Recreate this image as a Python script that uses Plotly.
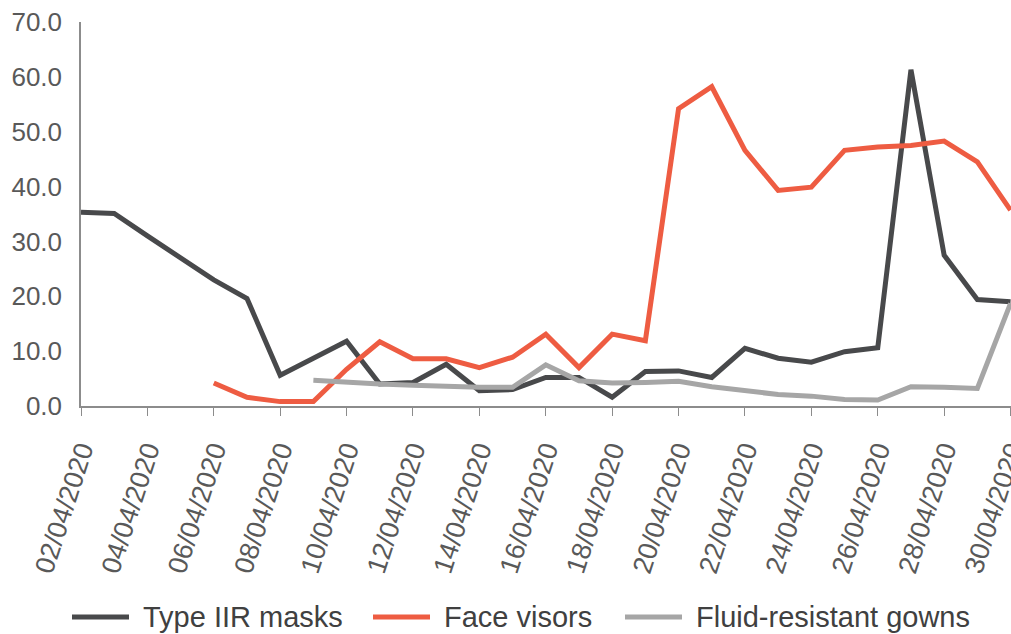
import plotly.graph_objects as go

# Daily dates shown on the x axis (02/04/2020 - 30/04/2020)
dates = [
    "2020-04-02", "2020-04-03", "2020-04-04", "2020-04-05", "2020-04-06",
    "2020-04-07", "2020-04-08", "2020-04-09", "2020-04-10", "2020-04-11",
    "2020-04-12", "2020-04-13", "2020-04-14", "2020-04-15", "2020-04-16",
    "2020-04-17", "2020-04-18", "2020-04-19", "2020-04-20", "2020-04-21",
    "2020-04-22", "2020-04-23", "2020-04-24", "2020-04-25", "2020-04-26",
    "2020-04-27", "2020-04-28", "2020-04-29", "2020-04-30",
]

type_iir_masks = [
    35.3, 35.1, 31.0, 27.0, 23.0, 19.6, 5.6, 8.7, 11.8, 4.0,
    4.3, 7.6, 2.8, 3.0, 5.2, 5.2, 1.6, 6.3, 6.4, 5.2,
    10.5, 8.7, 8.0, 9.9, 10.6, 61.3, 27.5, 19.4, 19.0,
]

face_visors = [
    None, None, None, None, 4.2, 1.6, 0.8, 0.8, 6.7, 11.7,
    8.6, 8.6, 7.0, 8.9, 13.1, 7.0, 13.1, 11.9, 54.2, 58.2,
    46.6, 39.3, 39.9, 46.6, 47.2, 47.5, 48.3, 44.5, 35.7,
]

fluid_resistant_gowns = [
    None, None, None, None, None, None, None, 4.7, 4.3, 4.0,
    3.8, 3.5, 3.4, 3.4, 7.5, 4.6, 4.2, 4.3, 4.5, 3.5,
    2.8, 2.1, 1.8, 1.2, 1.1, 3.5, 3.4, 3.2, 18.7,
]

series = [
    ("Type IIR masks", type_iir_masks, "#48494b"),
    ("Face visors", face_visors, "#ee5c42"),
    ("Fluid-resistant gowns", fluid_resistant_gowns, "#a6a6a6"),
]

FONT = "Arial, Liberation Sans, sans-serif"
AXIS_GREY = "#8c8c8c"
TEXT_GREY = "#595959"

W, H = 1011, 634
L, R, T, B = 81, 0, 22, 228
plot_w, plot_h = W - L - R, H - T - B


def px_x(px):
    # page pixel -> paper fraction (horizontal)
    return (px - L) / plot_w


def px_y(py):
    # page pixel (from top) -> paper fraction (vertical)
    return (H - B - py) / plot_h


fig = go.Figure()
for name, values, colour in series:
    fig.add_trace(go.Scatter(
        x=dates, y=values, name=name, mode="lines",
        line=dict(color=colour, width=5), connectgaps=False,
    ))

# Hand-built legend below the axis: long line swatch followed by the label
legend_x = [72, 373, 625]
legend_y = 617
for (name, _, colour), x0 in zip(series, legend_x):
    fig.add_shape(
        type="line", xref="paper", yref="paper",
        x0=px_x(x0), x1=px_x(x0 + 57), y0=px_y(legend_y), y1=px_y(legend_y),
        line=dict(color=colour, width=5),
    )
    fig.add_annotation(
        xref="paper", yref="paper", x=px_x(x0 + 69), y=px_y(legend_y),
        text=name, showarrow=False, xanchor="left", yanchor="middle",
        font=dict(family=FONT, size=29, color="#404040"),
    )

fig.update_layout(
    width=W, height=H,
    margin=dict(l=L, r=R, t=T, b=B),
    paper_bgcolor="white", plot_bgcolor="white",
    font=dict(family=FONT, color=TEXT_GREY, size=25),
    showlegend=False,
)
fig.update_xaxes(
    type="date", range=["2020-04-02", "2020-04-30 00:20"],
    dtick=2 * 86400000, tick0="2020-04-02", tickformat="%d/%m/%Y",
    tickangle=-72, ticks="outside", ticklen=8, tickcolor=AXIS_GREY,
    showline=True, linecolor=AXIS_GREY, linewidth=1.5,
    showgrid=False, zeroline=False, automargin=False,
    ticklabeloverflow="allow",
    tickfont=dict(size=27, color=TEXT_GREY), ticklabelstandoff=8,
)
fig.update_yaxes(
    range=[0, 70], dtick=10, tickformat=".1f",
    showline=True, linecolor=AXIS_GREY, linewidth=1.5,
    showgrid=False, zeroline=False, ticks="", automargin=False,
    ticklabeloverflow="allow",
    tickfont=dict(size=26, color=TEXT_GREY), ticklabelstandoff=12,
)

# drop the default page margin so the figure sits at the window origin
fig.write_html(
    "out.html",
    config={"displayModeBar": False},
    post_script="document.body.style.margin='0';document.body.style.overflow='hidden';",
)
